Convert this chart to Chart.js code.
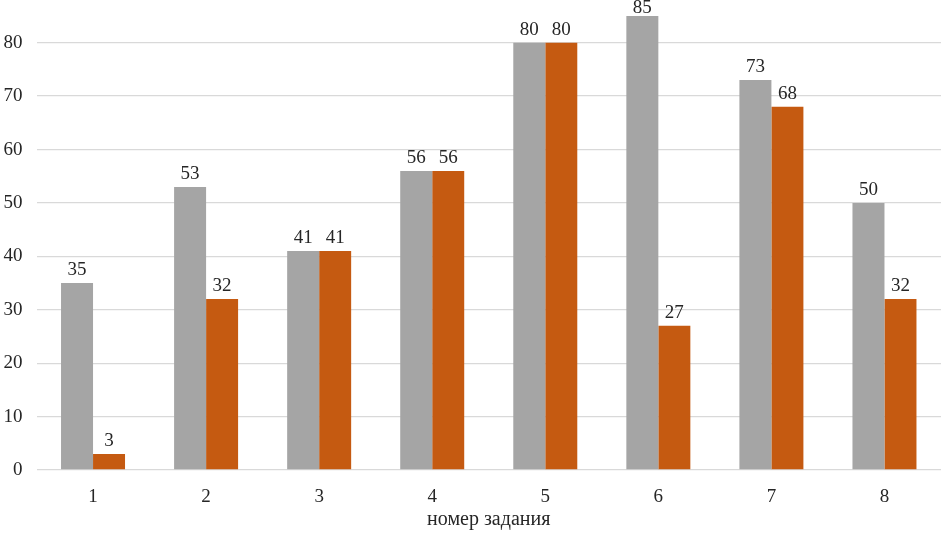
<!DOCTYPE html>
<html>
<head>
<meta charset="utf-8">
<script src="https://cdn.jsdelivr.net/npm/chart.js@4/dist/chart.umd.min.js"></script>
<style>
html,body{margin:0;padding:0;background:#fff;}
#wrap{width:941px;height:533px;position:relative;}
</style>
</head>
<body>
<div id="wrap"><canvas id="c" width="941" height="533"></canvas></div>
<script>
const categories = ["1","2","3","4","5","6","7","8"];
const seriesA = [35, 53, 41, 56, 80, 85, 73, 50];
const seriesB = [3, 32, 41, 56, 80, 27, 68, 32];
const yTicks = [0, 10, 20, 30, 40, 50, 60, 70, 80];
const xTitle = "номер задания";

const FONT = '"Liberation Serif", "Times New Roman", serif';
const TEXT = "#262626";
const FS = 19;

const labelPlugin = {
  id: 'barLabels',
  afterDatasetsDraw(chart) {
    const ctx = chart.ctx;
    ctx.save();
    ctx.font = FS + "px " + FONT;
    ctx.fillStyle = TEXT;
    ctx.textAlign = 'center';
    ctx.textBaseline = 'alphabetic';
    chart.data.datasets.forEach((ds, i) => {
      chart.getDatasetMeta(i).data.forEach((bar, j) => {
        const y = Math.max(bar.y - 8, 13);
        ctx.fillText(String(ds.data[j]), bar.x, y);
      });
    });
    ctx.restore();
  }
};

new Chart(document.getElementById('c'), {
  type: 'bar',
  data: {
    labels: categories,
    datasets: [
      { label: 'A', data: seriesA, backgroundColor: '#A5A5A5', categoryPercentage: 0.566, barPercentage: 1.0 },
      { label: 'B', data: seriesB, backgroundColor: '#C55A11', categoryPercentage: 0.566, barPercentage: 1.0 }
    ]
  },
  options: {
    responsive: false,
    animation: false,
    layout: { padding: { top: 16, left: 0, right: 0, bottom: 0 } },
    plugins: { legend: { display: false }, tooltip: { enabled: false } },
    scales: {
      x: {
        grid: { display: false },
        border: { display: false },
        ticks: { color: TEXT, font: { family: FONT, size: FS }, padding: 8 },
        title: { display: true, text: xTitle, color: TEXT, font: { family: FONT, size: 20 }, padding: { top: 0, bottom: 1 } },
        afterFit(s) { s.height = 63; s.paddingLeft = 0; s.paddingRight = 0; }
      },
      y: {
        min: 0,
        max: 85,
        afterBuildTicks(s) { s.ticks = yTicks.map(v => ({ value: v })); },
        grid: { color: '#D9D9D9', lineWidth: 1.3, drawTicks: false },
        border: { display: false },
        ticks: { color: TEXT, font: { family: FONT, size: FS }, padding: 14 },
        afterFit(s) { s.width = 36.5; s.paddingTop = 0; s.paddingBottom = 0; }
      }
    }
  },
  plugins: [labelPlugin]
});
</script>
</body>
</html>
